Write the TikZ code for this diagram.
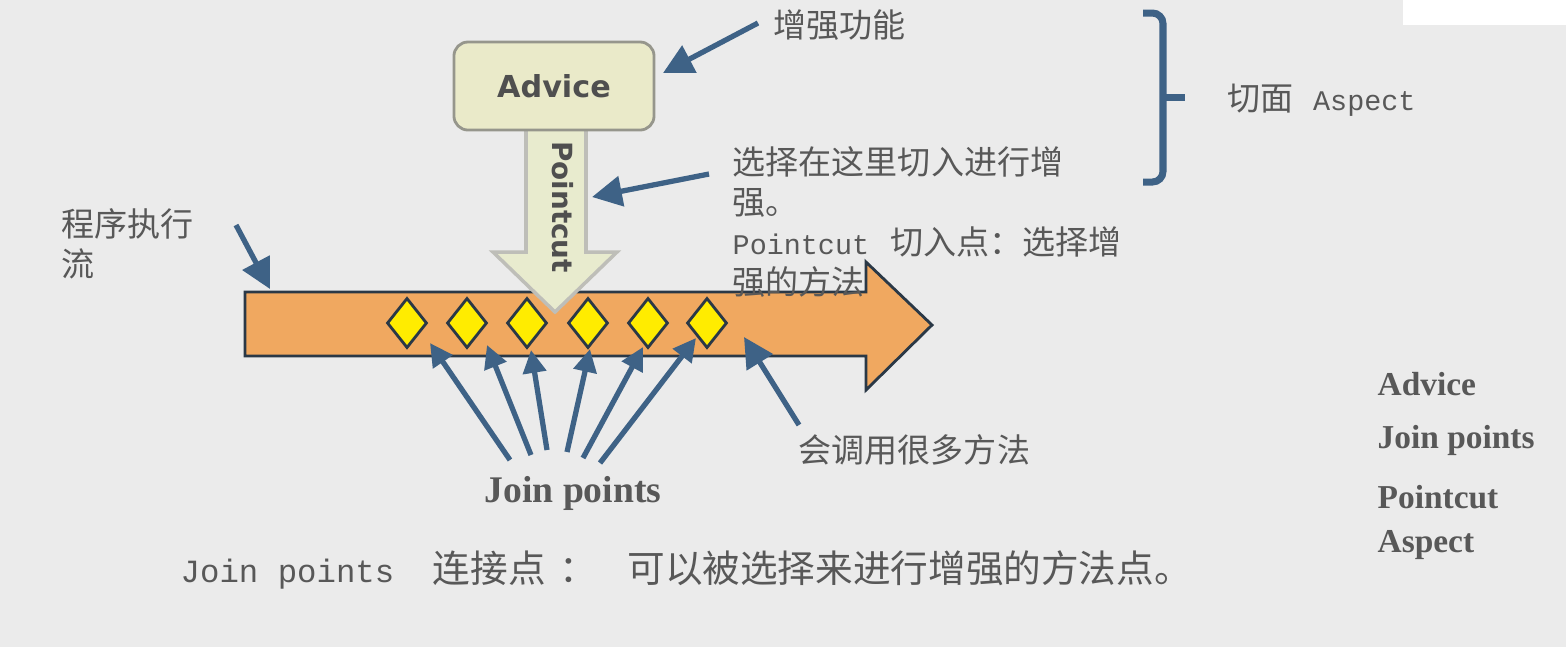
\documentclass[tikz,border=0pt]{standalone}
\usepackage{fontspec}
\setmainfont{Noto Sans CJK SC}
\newfontfamily\monolat{Liberation Mono}[Scale=0.86]
\newfontfamily\boxsans{DejaVu Sans}
\newfontfamily\legserif{Liberation Serif}
\usetikzlibrary{arrows.meta, shapes.geometric}

\definecolor{bggray}{RGB}{235,235,235}
\definecolor{labelgray}{RGB}{88,88,88}
\definecolor{arrowblue}{RGB}{62,98,134}
\definecolor{flowfill}{RGB}{240,168,96}
\definecolor{flowedge}{RGB}{42,56,70}
\definecolor{advicefill}{RGB}{234,234,201}
\definecolor{adviceedge}{RGB}{150,150,140}
\definecolor{cutfill}{RGB}{232,235,206}
\definecolor{cutedge}{RGB}{190,190,184}
\definecolor{jpyellow}{RGB}{255,236,0}

\tikzset{
  pointer/.style={draw=arrowblue, line width=1.5pt, -{Triangle[length=8.5pt, width=8.5pt]}},
  jppointer/.style={pointer, -{Triangle[length=6.5pt, width=6.5pt]}},
  label/.style={labelgray, inner sep=0pt, align=left, font=\fontsize{9.4}{11.4}\selectfont},
  joinpt/.style={diamond, draw=flowedge, line width=0.8pt, fill=jpyellow, inner sep=0pt,
    minimum width=0.4cm, minimum height=0.5cm},
  legend/.style={labelgray, inner sep=0pt, anchor=west, font=\legserif\bfseries\fontsize{9.5}{11}\selectfont},
}

\begin{document}
\begin{tikzpicture}[x=0.01cm, y=-0.01cm]

% background
\fill[bggray] (0,0) rectangle (1566,647);
\fill[white] (1403,0) rectangle (1566,25);

% program flow
\draw[flowedge, line width=0.8pt, fill=flowfill]
(245,292) coordinate (flow-nw) -- (866,292) -- (866,262) -- (932,325) coordinate (flow-tip)
-- (866,390) -- (866,356) -- (245,356) -- cycle ;

% pointcut arrow
\draw[cutedge, line width=1pt, fill=cutfill]
(526,128) -- (586,128) coordinate (cut-ne) -- (586,252) -- (617,252) -- (555,312) coordinate (cut-tip)
-- (493,252) -- (526,252) -- cycle ;
\node[rotate=-90, inner sep=0pt, text=labelgray!90!black, font=\boxsans\bfseries\fontsize{7.9}{9}\selectfont]
  (cut) at (563,207) {Pointcut};

% advice
\node[draw=adviceedge, line width=0.8pt, fill=advicefill, rounded corners=4pt,
  minimum width=2cm, minimum height=0.88cm, text=labelgray!90!black,
  font=\boxsans\bfseries\fontsize{8.6}{10}\selectfont] (advice) at (554,86) {Advice};

% join points
\foreach \x [count=\i] in {407,467,527,588,648,707}
  \node[joinpt] (jp\i) at (\x,323) {};

% aspect bracket
\draw[arrowblue, line width=2pt, rounded corners=3pt]
(1143,13) -- (1163,13) -- (1163,182) -- (1143,182) ;
\draw[arrowblue, line width=2pt] (1163,97) -- (1185,97) coordinate (aspect-tick) ;

% labels
\node[label, anchor=west] (enh) at (773,25) {增强功能};
\node[label, anchor=north west] (sel) at (732,146)
  {选择在这里切入进行增\\强。\\{\monolat Pointcut}\hspace{6pt}切入点：选择增\\强的方法};
\node[label, anchor=north west] (flow) at (61,208) {程序执行\\流};
\node[label, anchor=west] (many) at (798,450) {会调用很多方法};
\node[label, anchor=west] (aspect) at (1227,100) {切面\hspace{5.5pt}{\monolat Aspect}};
\node[labelgray, inner sep=0pt, font=\legserif\bfseries\fontsize{10.7}{12}\selectfont]
  (jplabel) at (573,493) {Join points};
\node[labelgray, inner sep=0pt, anchor=west, font=\fontsize{10.7}{12}\selectfont] (note) at (180,570)
  {{\monolat Join points}\hspace{11pt}连接点\hspace{4pt}：\hspace{8.5pt}可以被选择来进行增强的方法点。};

% legend
\path
(1377,384) node[legend] (leg-advice) {Advice}
(1377,440) node[legend] (leg-jp) {Join points}
(1377,497) node[legend] (leg-cut) {Pointcut}
(1377,545) node[legend] (leg-aspect) {Aspect}
;

% pointers
\path
(758,23) coordinate (enh-tail) (663,73) coordinate (enh-head)
(709,174) coordinate (sel-tail) (592,197) coordinate (sel-head)
(236,225) coordinate (flow-tail) (270,289) coordinate (flow-head)
(799,425) coordinate (many-tail) (744,337) coordinate (many-head)
;
\draw[pointer] (enh-tail) -- (enh-head) ;
\draw[pointer] (sel-tail) -- (sel-head) ;
\draw[pointer] (flow-tail) -- (flow-head) ;
\draw[pointer] (many-tail) -- (many-head) ;

% join point pointers
\foreach \tx/\ty/\hx/\hy [count=\i] in {510/460/430/343, 531/455/487/345, 547/450/531/350,
  567/452/590/349, 583/458/643/347, 600/463/696/338}
{
  \coordinate (jpt\i) at (\tx,\ty);
  \coordinate (jph\i) at (\hx,\hy);
  \draw[jppointer] (jpt\i) -- (jph\i) ;
}

\end{tikzpicture}
\end{document}
